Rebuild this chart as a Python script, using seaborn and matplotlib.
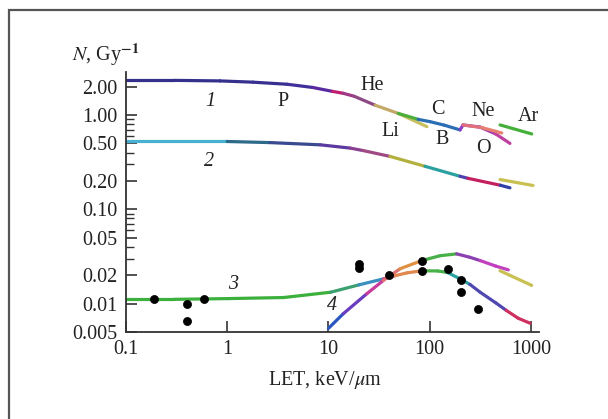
import matplotlib
matplotlib.use("Agg")
import numpy as np
import pandas as pd
import seaborn as sns
import matplotlib.pyplot as plt
from matplotlib.patches import Rectangle
from matplotlib.ticker import FixedLocator, FixedFormatter, NullFormatter

# ---------------- data ----------------
# curve 1 (main) and colours of each interval
c1_let = [0.1, 0.3, 0.85, 1.8, 3.9, 7.0, 11.0, 14.0, 18.0, 29.0, 49.0, 77.0, 101, 140, 200, 214]
c1_n = [2.33, 2.33, 2.30, 2.23, 2.12, 1.96, 1.78, 1.70, 1.58, 1.27, 1.04, 0.90, 0.85, 0.78, 0.695, 0.785]
c1_col = ["#34308c", "#34308c", "#35308e", "#383090", "#40309a", "#5a2aa0", "#c01e6e", "#a03a88",
          "#8e4a84", "#c4a868", "#4caf3c", "#2a6fb5", "#2a6fb5", "#2a6fb5", "#8a3cc8"]
li_let = [49.0, 94.0]
li_n = [1.04, 0.753]
ne_let = [214, 330, 516]
ne_n = [0.785, 0.735, 0.645]
o_let = [214, 315, 450, 622]
o_n = [0.785, 0.745, 0.63, 0.50]
ar1_let = [497, 1020]
ar1_n = [0.785, 0.63]

# curve 2
c2_let = [0.1, 1.0, 2.65, 8.3, 16.4, 22.0, 40.6, 90.0, 200, 240, 500, 622]
c2_n = [0.524, 0.524, 0.51, 0.483, 0.446, 0.42, 0.364, 0.286, 0.224, 0.213, 0.18, 0.169]
c2_col = ["#48b0d0", "#2d6a8a", "#3a4a90", "#5a3aa0", "#8a4090", "#a04a84", "#b4b040",
          "#2aa0a0", "#5040b0", "#c42060", "#3040a8"]
ar2_let = [497, 1050]
ar2_n = [0.207, 0.179]

# curve 3
c3_let = [0.1, 0.3, 1.0, 3.6, 10.5, 20, 35, 45, 60, 84, 120, 150, 200, 250, 316, 450, 570, 750, 980]
c3_n = [0.0111, 0.0111, 0.0113, 0.0116, 0.0132, 0.0158, 0.0183, 0.0197, 0.0212, 0.0223, 0.0222,
        0.0214, 0.0183, 0.0160, 0.0132, 0.0102, 0.0085, 0.0070, 0.0062]
c3_col = ["#3cb03c", "#3cb03c", "#3cb03c", "#3cb03c", "#3aa070", "#3a8ec0", "#d04090", "#e08850",
          "#e08850", "#48b048", "#48b048", "#2aa0a0", "#2aa0a0", "#5048b0", "#5048b0", "#5048b0",
          "#d03060", "#d03060"]

# curve 4
c4_let = [10, 14, 23.9, 34.9, 51, 83.5, 127, 185, 250, 316, 450, 600]
c4_n = [0.00546, 0.0078, 0.0127, 0.0176, 0.0234, 0.0286, 0.0322, 0.0337, 0.031, 0.0286, 0.025, 0.0228]
c4_col = ["#2a56c0", "#6a3cc0", "#c83ca0", "#e07070", "#e09040", "#48b048", "#48b048", "#8a40b0",
          "#8a40b0", "#c040c0", "#c040c0"]
br4_let = [497, 1020]
br4_n = [0.0223, 0.0156]

# experimental points
dot_let = [0.19, 0.40, 0.40, 0.59, 20, 20, 40, 83.5, 83.5, 151, 203, 203, 303]
dot_n = [0.0111, 0.0100, 0.0065, 0.0111, 0.0264, 0.0240, 0.0199, 0.0286, 0.0223, 0.0233, 0.0178,
         0.0132, 0.0088]

# labels
lab_text = ["1", "P", "2", "He", "Li", "C", "B", "Ne", "O", "Ar", "3", "4"]
lab_let = [0.676, 3.58, 0.656, 26.8, 41.3, 122, 132, 340, 340, 944, 1.15, 10.9]
lab_n = [1.38, 1.38, 0.322, 2.07, 0.667, 1.15, 0.555, 1.08, 0.446, 0.96, 0.0158, 0.00946]
lab_italic = [True, False, True, False, False, False, False, False, False, False, True, True]

y_major = [0.005, 0.01, 0.02, 0.05, 0.1, 0.2, 0.5, 1.0, 2.0]
y_major_lab = ["0.005", "0.01", "0.02", "0.05", "0.10", "0.20", "0.50", "1.00", "2.00"]
y_minor = [0.03, 0.04, 0.06, 0.07, 0.08, 0.09, 0.3, 0.4, 0.6, 0.7, 0.8, 0.9]
x_major = [0.1, 1, 10, 100, 1000]
x_major_lab = ["0.1", "1", "10", "100", "1000"]

# ---------------- style ----------------
sns.set_theme(style="white")
plt.rcParams["font.family"] = ["Liberation Serif", "DejaVu Serif"]
plt.rcParams["mathtext.fontset"] = "stix"
FS = 14.5

fig = plt.figure(figsize=(6.08, 4.19), dpi=100)
ax = fig.add_axes([126 / 608, 1 - 332 / 419, (539 - 126) / 608, (332 - 71.7) / 419])
ax.set_xscale("log")
ax.set_yscale("log")


def seg_frame(let, n, colors, name):
    rows = []
    for i, c in enumerate(colors):
        sid = f"{name}_{i}"
        rows.append((let[i], n[i], sid, c))
        rows.append((let[i + 1], n[i + 1], sid, c))
    return pd.DataFrame(rows, columns=["let", "n", "seg", "color"])


frames = [
    seg_frame(li_let, li_n, ["#c8c060"], "li"),
    seg_frame(c1_let, c1_n, c1_col, "c1"),
    seg_frame(o_let, o_n, ["#9a3cb8", "#a83cb0", "#c040a0"], "o"),
    seg_frame(ne_let, ne_n, ["#e0707a", "#e88070"], "ne"),
    seg_frame(ar1_let, ar1_n, ["#44b03a"], "ar1"),
    seg_frame(c2_let, c2_n, c2_col, "c2"),
    seg_frame(ar2_let, ar2_n, ["#c8c050"], "ar2"),
    seg_frame(c3_let, c3_n, c3_col, "c3"),
    seg_frame(c4_let, c4_n, c4_col, "c4"),
    seg_frame(br4_let, br4_n, ["#c8c050"], "br4"),
]
df = pd.concat(frames, ignore_index=True)
pal = dict(zip(df["seg"], df["color"]))
sns.lineplot(data=df, x="let", y="n", hue="seg", units="seg", palette=pal, estimator=None,
             sort=False, legend=False, lw=2.3, ax=ax, solid_capstyle="round")

dots = pd.DataFrame({"let": dot_let, "n": dot_n})
sns.scatterplot(data=dots, x="let", y="n", color="black", s=34, edgecolor="black",
                linewidth=0.5, ax=ax, zorder=5)

for t, lx, ly, it in zip(lab_text, lab_let, lab_n, lab_italic):
    ax.text(lx, ly, t, fontsize=FS, ha="center", va="center", color="#222222",
            style="italic" if it else "normal")

ax.set_xlim(0.1, 1205)
ax.set_ylim(0.005, 2.88)

ax.yaxis.set_major_locator(FixedLocator(y_major))
ax.yaxis.set_major_formatter(FixedFormatter(y_major_lab))
ax.yaxis.set_minor_locator(FixedLocator(y_minor))
ax.yaxis.set_minor_formatter(NullFormatter())
ax.xaxis.set_major_locator(FixedLocator(x_major))
ax.xaxis.set_major_formatter(FixedFormatter(x_major_lab))
ax.xaxis.set_minor_locator(FixedLocator([]))

ax.tick_params(axis="both", which="major", direction="in", length=8, width=1.2,
               color="#333333", labelsize=FS, labelcolor="#222222", pad=6)
ax.tick_params(axis="y", which="minor", direction="in", length=5.5, width=1.0, color="#333333",
               left=True)
ax.tick_params(axis="y", which="both", left=True)
ax.tick_params(axis="x", which="major", bottom=True)

for s in ["top", "right"]:
    ax.spines[s].set_visible(False)
for s in ["left", "bottom"]:
    ax.spines[s].set_color("#333333")
    ax.spines[s].set_linewidth(1.3)

ax.set_xlabel("")
ax.set_ylabel("")
fig.text(72 / 608, 1 - 55 / 419, r"$N$, Gy$^{\mathbf{-1}}$", fontsize=FS, ha="left",
         va="center", color="#222222")
fig.text(325 / 608, 1 - 380 / 419, r"LET, keV/$\mu$m", fontsize=FS, ha="center",
         va="center", color="#222222")

fig.add_artist(Rectangle((8.5 / 608, -0.2), 1.2, 1.2 - 9.5 / 419 + 0.0, transform=fig.transFigure,
                         fill=False, edgecolor="#555555", lw=1.6))

fig.savefig("out.png", dpi=100)
